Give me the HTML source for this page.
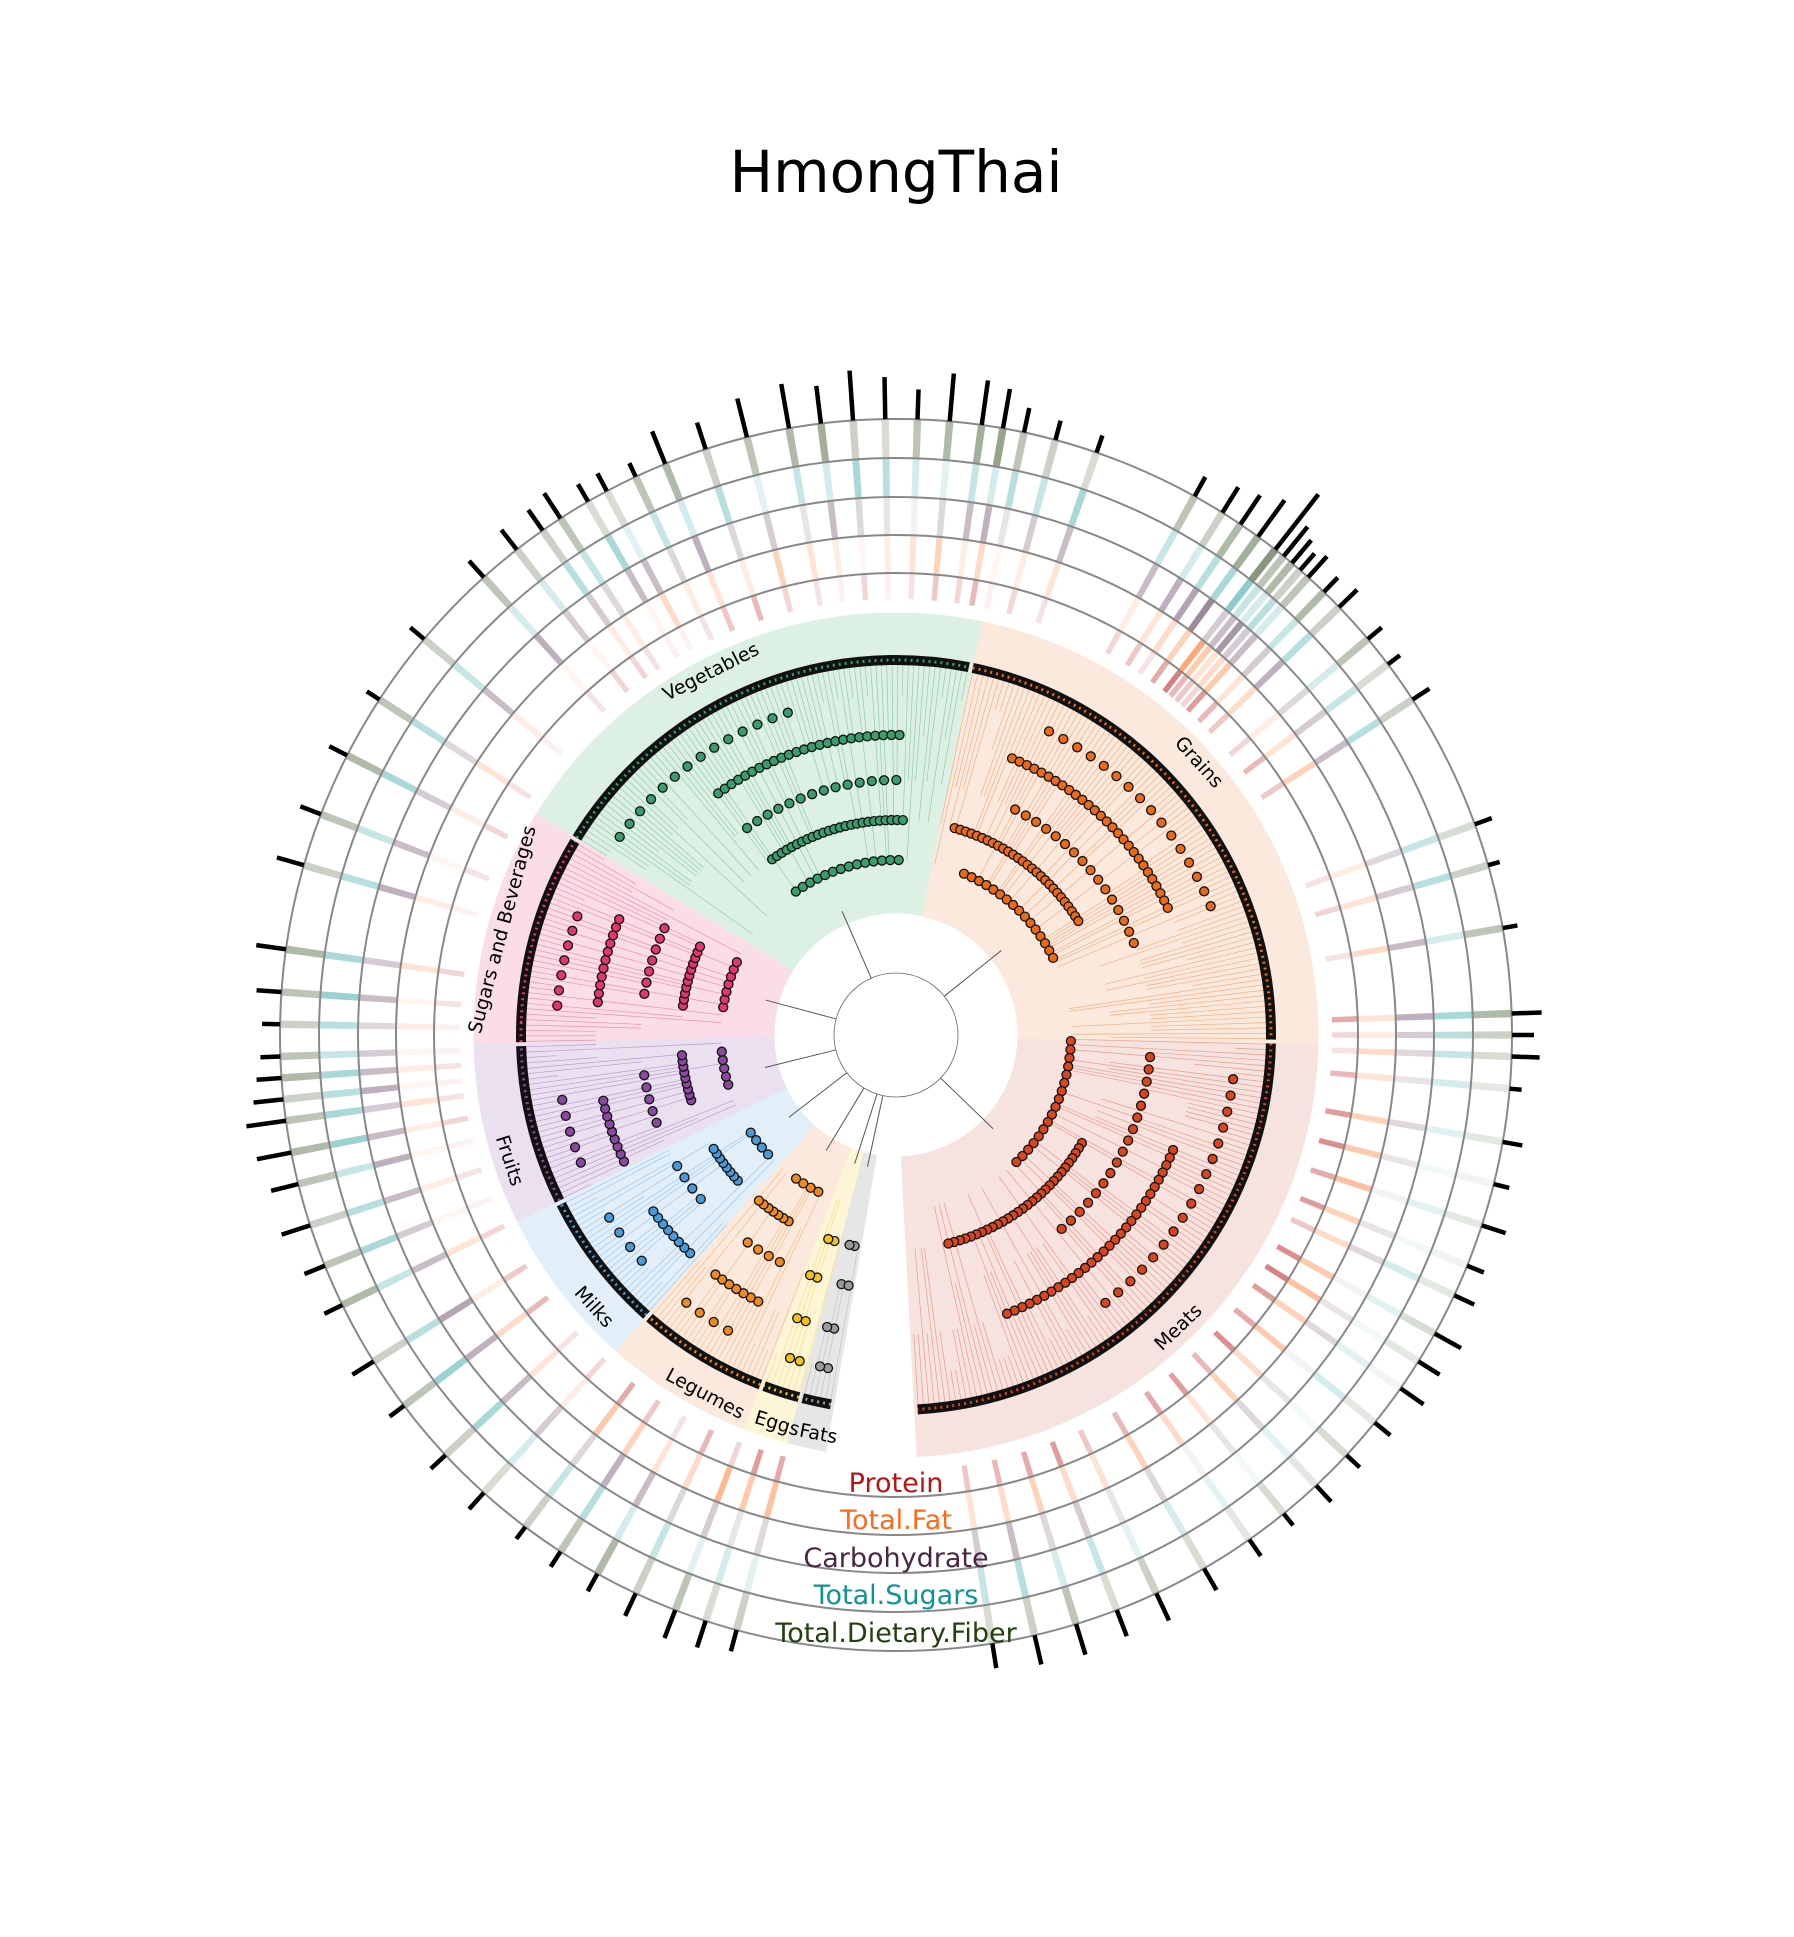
<!DOCTYPE html>
<html><head><meta charset="utf-8"><style>
html,body{margin:0;padding:0;background:#fff;}
svg{display:block;font-family:"DejaVu Sans","Liberation Sans",sans-serif;}
</style></head><body>
<svg id="chart" width="1794" height="1937" viewBox="0 0 1794 1937" xmlns="http://www.w3.org/2000/svg">
<text x="896" y="192" text-anchor="middle" font-size="58" fill="#000">HmongThai</text>
<g id="sectors"></g><g id="tree"></g><g id="strips"></g><g id="rings"></g><g id="bars"></g><g id="labels"></g>
<g font-size="27" text-anchor="middle">
<text x="896" y="1492" fill="#b81414">Protein</text>
<text x="896" y="1529" fill="#ff6a1a">Total.Fat</text>
<text x="896" y="1567" fill="#4a2545">Carbohydrate</text>
<text x="896" y="1604" fill="#0f9494">Total.Sugars</text>
<text x="896" y="1642" fill="#25400f">Total.Dietary.Fiber</text>
</g>
</svg>
<script>
// ---- data ----
const groupNames=["Meats","Grains","Vegetables","Sugars and Beverages","Fruits","Milks","Legumes","Eggs","Fats"];
const groupStart=[177,91,11.5,301.4,268.6,243.5,221.4,200.9,194.7];
const groupEnd=[91,11.5,-58.6,268.6,243.5,221.4,200.9,194.7,189.7];
const groupFill=["#f6e2df","#fae9dc","#dcf0e3","#fadde6","#ebe0f0","#e2eff9","#fae9dc","#fcf5d6","#e6e6e6"];
const groupDot=["#d8461f","#ea6a18","#3a9e6c","#e0386a","#8a48a0","#4a9ad8","#f08a20","#f2c420","#9a9a9a"];
const labelAngle=[136,48,333,285,252,228,208,197,191];
const nutrients=["Protein","Total.Fat","Carbohydrate","Total.Sugars","Total.Dietary.Fiber"];
const nutrientColor=["#b81414","#ff6a1a","#4a2545","#0f9494","#25400f"];
const itemAngle=[-38,-33,-28,-22,-18,-14,-10,-7,-4,-1,2,5,8,10,12,15,19,
 29,32,34,36,38,39,40,41,42,44,46,50,53,57,
 70,74,80,88,90,92,95,100,104,108,112,115,119,122,125,129,133,137,141,145,150,155,159,163,167,171,
 195,198,201,205,209,213,217,222,227,233,238,244,248,252,256,259,262,264,266,268,271,274,278,286,291,297,303,310,318,325,330,335];
const protein=[.3,.2,.1,.4,.5,.3,.2,.1,.3,.1,.2,.4,.3,.5,.1,.3,.2, .3,.4,.2,.6,.9,.5,.4,.3,.7,.5,.4,.3,.5,.4, .2,.3,.2,.6,.3,.2,.5,.7,.8,.6,.7,.4,.8,.9,.7,.6,.8,.5,.7,.6,.5,.4,.7,.6,.5,.4, .6,.7,.3,.5,.2,.4,.6,.3,.2,.5,.4,.3,.1,.2,.1,.3,.2,.1,.2,.1,.1,.2,.3,.1,.2,.3,.2,.1,.2,.3,.1,.2];
const fat=[.1,.2,.4,.3,.2,.5,.3,.2,.1,.2,.3,.5,.2,.4,.1,.2,.3, .2,.3,.4,.5,1,.6,.3,.4,.6,.3,.4,.2,.3,.5, .2,.3,.4,.3,.2,.4,.3,.5,.6,.7,.5,.4,.6,.7,.5,.6,.4,.5,.3,.4,.5,.3,.4,.5,.4,.3, .7,.6,.8,.4,.3,.5,.6,.2,.3,.4,.2,.3,.1,.2,.1,.2,.3,.1,.2,.1,.2,.1,.3,.2,.1,.2,.3,.2,.1,.2,.1,.2];
const carb=[.4,.3,.5,.6,.3,.4,.2,.5,.3,.2,.1,.3,.5,.6,.2,.4,.5, .5,.6,.7,.9,.4,.5,.8,.4,.5,.4,.6,.3,.4,.5, .3,.4,.5,.6,.4,.3,.2,.3,.2,.1,.2,.3,.1,.2,.3,.1,.2,.3,.2,.1,.3,.2,.4,.3,.5,.4, .3,.2,.4,.3,.5,.6,.3,.4,.5,.6,.7,.5,.4,.5,.6,.5,.4,.6,.5,.4,.3,.5,.4,.6,.5,.4,.3,.5,.6,.4,.5,.3];
const sugars=[.3,.4,.2,.3,.5,.2,.4,.3,.6,.5,.3,.2,.4,.3,.5,.4,.6, .4,.3,.5,.6,.8,.4,.3,.5,.3,.4,.5,.3,.4,.5, .4,.5,.3,.6,.5,.4,.3,.2,.1,.2,.1,.3,.2,.1,.2,.3,.1,.2,.1,.2,.3,.2,.4,.3,.5,.4, .2,.3,.2,.4,.3,.5,.4,.3,.6,.7,.5,.4,.6,.5,.4,.7,.6,.5,.6,.4,.5,.7,.6,.5,.4,.6,.5,.4,.3,.5,.6,.4];
const fiber=[.4,.5,.3,.6,.4,.5,.6,.7,.4,.3,.5,.6,.7,.8,.5,.4,.3, .5,.4,.6,.7,.9,.5,.6,.4,.5,.6,.4,.5,.3,.4, .3,.4,.5,.6,.4,.3,.2,.2,.1,.2,.1,.2,.3,.2,.1,.2,.3,.2,.3,.2,.3,.4,.3,.5,.4,.3, .4,.3,.5,.4,.6,.5,.4,.3,.4,.5,.4,.6,.5,.4,.5,.6,.5,.4,.6,.5,.4,.5,.6,.4,.5,.6,.5,.4,.5,.4,.3,.5];
const barLen=[25,30,20,35,28,40,45,38,50,42,30,48,45,40,25,20,18, 22,30,35,45,70,38,30,22,28,20,25,18,15,20, 18,12,15,30,22,28,12,20,16,25,18,22,30,25,28,20,18,22,15,20,25,30,28,32,30,25, 22,28,30,25,20,18,15,22,20,18,25,20,22,30,28,35,40,30,25,20,18,25,30,28,22,20,15,18,22,25,20,15];
// ---- helpers ----
const NS="http://www.w3.org/2000/svg",cx=896,cy=1035;
const rad=a=>a*Math.PI/180;
const P=(r,a)=>[cx+r*Math.sin(rad(a)),cy-r*Math.cos(rad(a))];
function mk(tag,attrs,parent){const e=document.createElementNS(NS,tag);for(const k in attrs)e.setAttribute(k,attrs[k]);parent.appendChild(e);return e;}
function wedge(r0,r1,a0,a1){const lo=Math.min(a0,a1),hi=Math.max(a0,a1);const large=hi-lo>180?1:0;
 const p1=P(r1,lo),p2=P(r1,hi),p3=P(r0,hi),p4=P(r0,lo);
 return `M${p1[0]} ${p1[1]}A${r1} ${r1} 0 ${large} 1 ${p2[0]} ${p2[1]}L${p3[0]} ${p3[1]}A${r0} ${r0} 0 ${large} 0 ${p4[0]} ${p4[1]}Z`;}
function arc(r,a0,a1){const lo=Math.min(a0,a1),hi=Math.max(a0,a1);const p1=P(r,lo),p2=P(r,hi);return `M${p1[0]} ${p1[1]}A${r} ${r} 0 ${hi-lo>180?1:0} 1 ${p2[0]} ${p2[1]}`;}
const gS=document.getElementById("sectors"),gT=document.getElementById("tree"),gSt=document.getElementById("strips"),gR=document.getElementById("rings"),gB=document.getElementById("bars"),gL=document.getElementById("labels");
function h(i,j){const x=Math.sin(i*127.1+j*311.7)*43758.5453;return x-Math.floor(x);}
const nodeRows=[175,215,255,300,340];
groupNames.forEach((g,i)=>{
 const s=mk("path",{d:wedge(123,421,groupStart[i],groupEnd[i]),fill:groupFill[i],stroke:groupFill[i],"stroke-width":"3"},gS);
 
 
 const lo=Math.min(groupStart[i],groupEnd[i]),hi=Math.max(groupStart[i],groupEnd[i]);
 const span=hi-lo;
 const nLeaf=Math.max(6,Math.round(span*1.2));
 for(let k=0;k<nLeaf;k++){
  const a=lo+(k+0.5)*span/nLeaf;
  const rr=nodeRows[Math.floor(h(i,k)*nodeRows.length)];
  const p0=P(rr,a),p1=P(372,a);
  mk("line",{x1:p0[0],y1:p0[1],x2:p1[0],y2:p1[1],stroke:groupDot[i],"stroke-width":"0.7","stroke-opacity":"0.45"},gT);
 }
 const mid=(lo+hi)/2,pm=P(62,mid),pn=P(135,mid);
 mk("line",{x1:pm[0],y1:pm[1],x2:pn[0],y2:pn[1],stroke:"#555","stroke-width":"1"},gT);
 // internal nodes arranged in arc rows
 const rowsUsed=span>20?nodeRows:nodeRows.slice(1,5);
 rowsUsed.forEach((r,ri)=>{
  const n=Math.max(2,Math.round(span*(ri%2?0.35:0.2)));
  const startOff=h(i,ri)*span*0.4;
  for(let k=0;k<n;k++){
   const a=lo+1+((startOff+k*span*0.55/n)%(span-2));
   const p=P(r,a);
   const c=mk("circle",{cx:p[0],cy:p[1],r:"4.5",fill:groupDot[i],stroke:"#111","stroke-width":"1.3"},gT);
   
   
  }
 });
 const lr=mk("path",{d:arc(375,lo+0.3,hi-0.3),fill:"none",stroke:"#111","stroke-width":"10"},gT);
 
 
 mk("path",{d:arc(375,lo+0.3,hi-0.3),fill:"none",stroke:groupDot[i],"stroke-width":"3","stroke-dasharray":"2 4"},gT);
 const la=labelAngle[i],lp=P(407,la);
 const rot=(la>90&&la<270)?la-180:la;
 const t=mk("text",{x:lp[0],y:lp[1],"font-size":"19","text-anchor":"middle","dominant-baseline":"middle",transform:`rotate(${rot} ${lp[0]} ${lp[1]})`,fill:"#000"},gL);
 t.textContent=g;
 
 
});
mk("circle",{cx:cx,cy:cy,r:62,fill:"none",stroke:"#666","stroke-width":"0.8"},gT);
const ringR=[462,500,538,577,616];
ringR.forEach((r,k)=>{const c=mk("circle",{cx:cx,cy:cy,r:r,fill:"none",stroke:"#888","stroke-width":"2"},gR);
 
 });
const series=[protein,fat,carb,sugars,fiber];
const ringInner=[436,462,500,538,577];
itemAngle.forEach((a,i)=>{
 series.forEach((vals,k)=>{
  const v=vals[i];
  const s=mk("path",{d:wedge(ringInner[k],ringR[k],a-0.35,a+0.35),fill:nutrientColor[k],"fill-opacity":(v*0.6).toFixed(2)},gSt);
  
  
 });
 const p0=P(616,a),p1=P(616+barLen[i],a);
 const b=mk("line",{x1:p0[0],y1:p0[1],x2:p1[0],y2:p1[1],stroke:"#000","stroke-width":"4.5"},gB);
 
 
});
</script>
</body></html>
